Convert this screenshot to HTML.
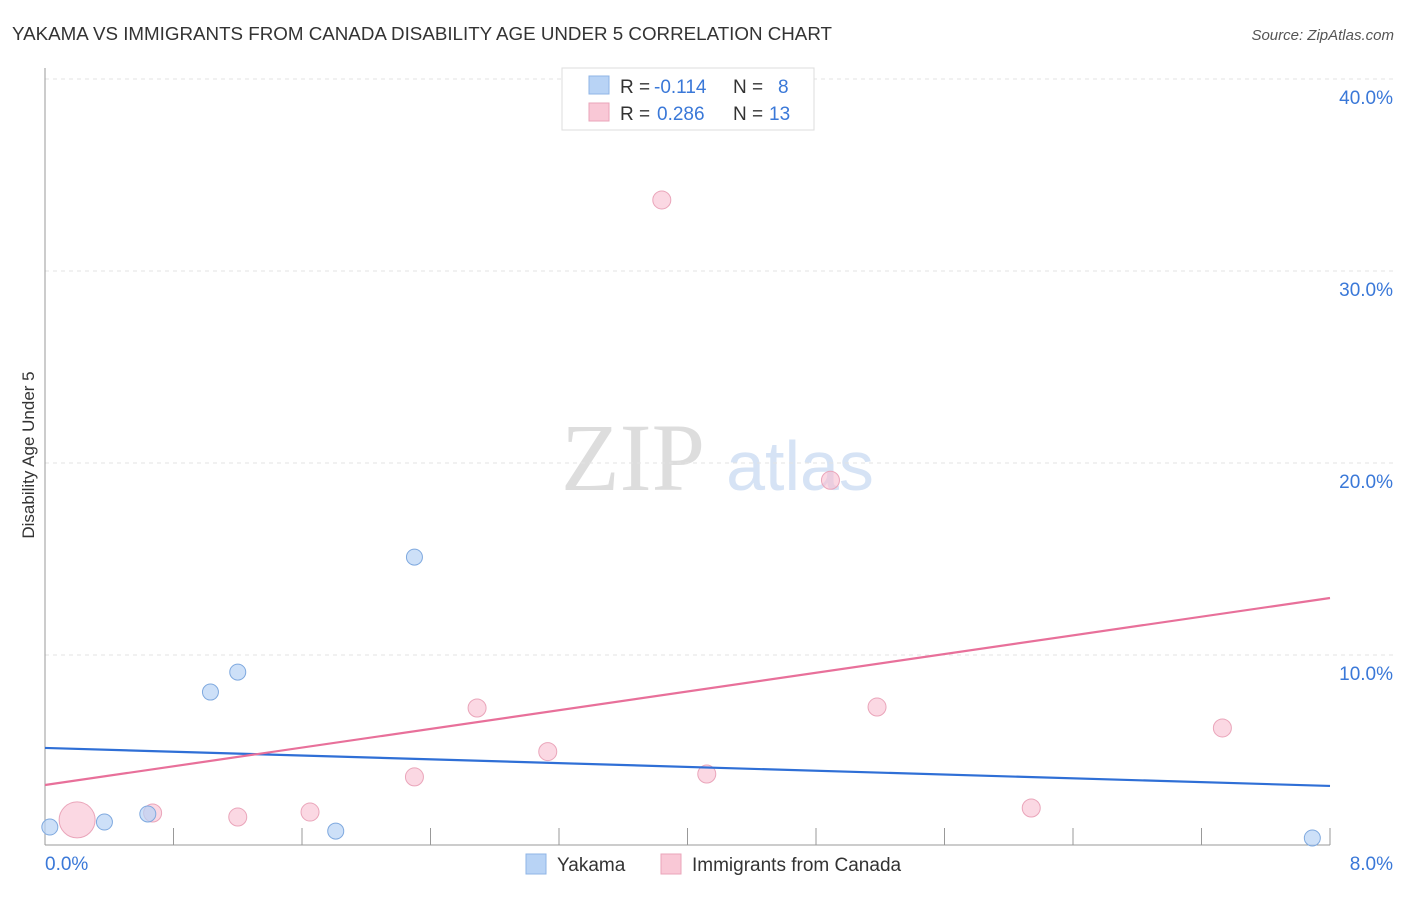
<!DOCTYPE html>
<html><head><meta charset="utf-8"><style>
body{margin:0;background:#fff;font-family:"Liberation Sans",sans-serif;}
</style></head><body>
<svg id="c" width="1406" height="892" xmlns="http://www.w3.org/2000/svg">
<text x="12" y="40" font-size="18" fill="#333" textLength="820" lengthAdjust="spacingAndGlyphs">YAKAMA VS IMMIGRANTS FROM CANADA DISABILITY AGE UNDER 5 CORRELATION CHART</text>
<text x="1394" y="40" font-size="15" fill="#555" font-style="italic" text-anchor="end">Source: ZipAtlas.com</text>
<text x="34" y="455" font-size="17" fill="#333" text-anchor="middle" transform="rotate(-90 34 455)">Disability Age Under 5</text>
<g><text x="633" y="490" font-size="96" fill="#ddd" font-family="Liberation Serif,serif" text-anchor="middle">ZIP</text><text x="800" y="490" font-size="70" fill="#d6e3f5" text-anchor="middle">atlas</text></g>
<g id="grid"></g><g id="axes"></g><g id="marks"></g>
<g>
<rect x="562" y="68" width="252" height="62" fill="#fff" stroke="#ddd"/>
<rect x="589" y="76" width="20" height="18" fill="#b8d3f5" stroke="#8fb5e6"/>
<text x="620" y="93" font-size="19" fill="#333">R =</text>
<text x="654" y="93" font-size="19" fill="#3a78d8">-0.114</text>
<text x="733" y="93" font-size="19" fill="#333">N =</text>
<text x="778" y="93" font-size="19" fill="#3a78d8">8</text>
<rect x="589" y="103" width="20" height="18" fill="#f9c8d6" stroke="#eaa5ba"/>
<text x="620" y="120" font-size="19" fill="#333">R =</text>
<text x="657" y="120" font-size="19" fill="#3a78d8">0.286</text>
<text x="733" y="120" font-size="19" fill="#333">N =</text>
<text x="769" y="120" font-size="19" fill="#3a78d8">13</text>
</g>
<g>
<rect x="526" y="854" width="20" height="20" fill="#b8d3f5" stroke="#8fb5e6"/>
<text x="557" y="871" font-size="19" fill="#333">Yakama</text>
<rect x="661" y="854" width="20" height="20" fill="#f9c8d6" stroke="#eaa5ba"/>
<text x="692" y="871" font-size="19" fill="#333">Immigrants from Canada</text>
</g>
</svg>
<script>
const yTicks=[10,20,30,40];
const yTickLabels=["10.0%","20.0%","30.0%","40.0%"];
const xEndLabels=["0.0%","8.0%"];
const yakamaX=[0.03,0.37,0.64,1.03,1.20,2.30,1.81,7.89];
const yakamaY=[1.04,1.30,1.72,8.07,9.11,15.1,0.83,0.47];
const canadaX=[0.20,0.67,1.20,1.65,2.30,2.69,3.13,3.84,4.12,4.89,5.18,6.14,7.33];
const canadaY=[1.41,1.77,1.56,1.82,3.65,7.24,4.97,33.7,3.80,19.1,7.29,2.03,6.20];
const canadaSize=[18,9,9,9,9,9,9,9,9,9,9,9,9];
const yakamaTrend=[5.16,3.18];
const canadaTrend=[3.23,12.97];
const NS="http://www.w3.org/2000/svg";
const sx=v=>45+v/8*1285, sy=v=>847-v*19.2;
function mk(p,t,a){const e=document.createElementNS(NS,t);for(const k in a)e.setAttribute(k,a[k]);p.appendChild(e);return e;}
const G=document.getElementById('grid'),A=document.getElementById('axes'),M=document.getElementById('marks');
yTicks.forEach((t,i)=>{
 const l=mk(G,'line',{x1:45,x2:1394,y1:sy(t),y2:sy(t),stroke:'#e3e3e3','stroke-dasharray':'4 4'});
 
 
 const tx=mk(A,'text',{x:1393,y:sy(t)+25,'font-size':19,fill:'#3a78d8','text-anchor':'end'});tx.textContent=yTickLabels[i];
 
 
});
mk(A,'line',{x1:45,x2:45,y1:68,y2:845,stroke:'#999'});
mk(A,'line',{x1:45,x2:1330,y1:845,y2:845,stroke:'#999'});
for(let i=1;i<=10;i++){mk(A,'line',{x1:sx(i*0.8),x2:sx(i*0.8),y1:828,y2:845,stroke:'#999'});}
const x0=mk(A,'text',{x:45,y:870,'font-size':19,fill:'#3a78d8'});x0.textContent=xEndLabels[0];


const x1=mk(A,'text',{x:1393,y:870,'font-size':19,fill:'#3a78d8','text-anchor':'end'});x1.textContent=xEndLabels[1];


canadaX.forEach((x,i)=>{const c=mk(M,'circle',{cx:sx(x),cy:sy(canadaY[i]),r:canadaSize[i],fill:'rgba(249,190,208,0.6)',stroke:'#eaa5ba'});
 
 });
yakamaX.forEach((x,i)=>{const c=mk(M,'circle',{cx:sx(x),cy:sy(yakamaY[i]),r:8,fill:'rgba(184,211,245,0.7)',stroke:'#7fa9df'});
 
 });
const t1=mk(M,'line',{x1:sx(0),x2:sx(8),y1:sy(yakamaTrend[0]),y2:sy(yakamaTrend[1]),stroke:'#2f6fd6','stroke-width':2.2});


const t2=mk(M,'line',{x1:sx(0),x2:sx(8),y1:sy(canadaTrend[0]),y2:sy(canadaTrend[1]),stroke:'#e8709a','stroke-width':2.2});


</script>
</body></html>
